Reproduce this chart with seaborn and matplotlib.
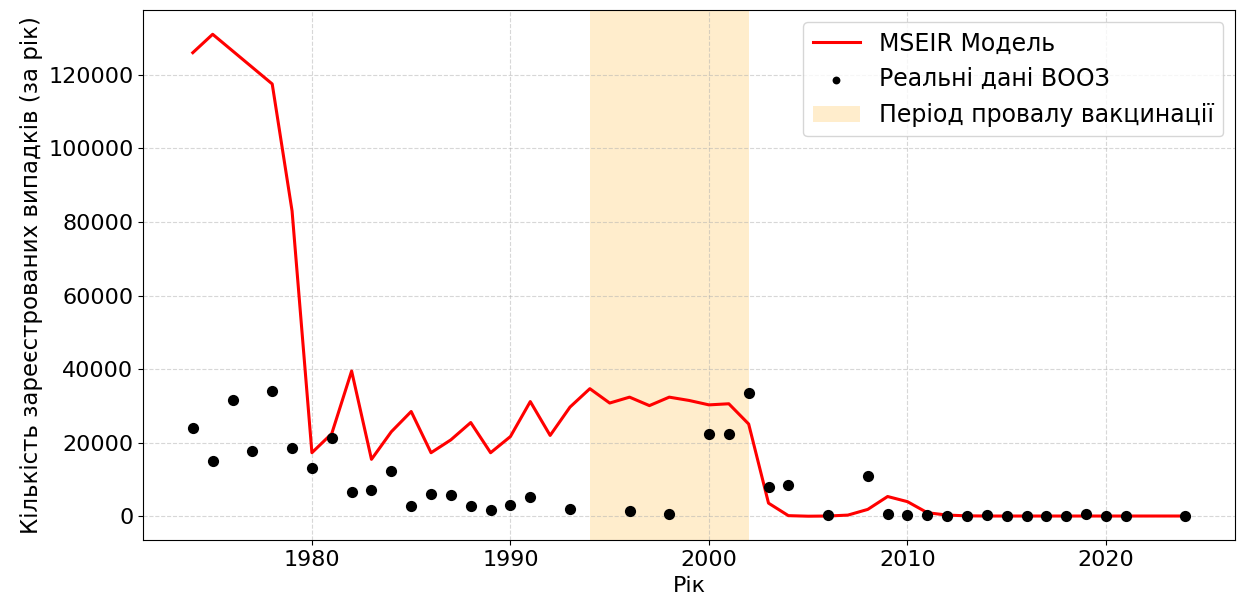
import numpy as np
import pandas as pd
import matplotlib
matplotlib.use("Agg")
import matplotlib.pyplot as plt
import seaborn as sns

model_years = list(range(1974, 2025))
model_cases = [126000, 131000, 126500, 122000, 117500, 83000, 17300, 22500, 39500, 15500,
               23000, 28500, 17300, 20800, 25500, 17300, 21700, 31200, 22000, 29700,
               34700, 30800, 32400, 30100, 32400, 31500, 30300, 30600, 25100, 3600,
               200, 50, 100, 350, 1900, 5400, 4000, 1000, 350, 150,
               100, 100, 100, 100, 100, 100, 100, 100, 100, 100, 100]

who_years = [1974, 1975, 1976, 1977, 1978, 1979, 1980, 1981, 1982, 1983, 1984, 1985,
             1986, 1987, 1988, 1989, 1990, 1991, 1993, 1996, 1998, 2000, 2001, 2002,
             2003, 2004, 2006, 2008, 2009, 2010, 2011, 2012, 2013, 2014, 2015, 2016,
             2017, 2018, 2019, 2020, 2021, 2024]
who_cases = [23900, 15000, 31500, 17900, 34200, 18700, 13200, 21300, 6500, 7200, 12200, 2700,
             6100, 5700, 2900, 1700, 3200, 5300, 1900, 1500, 600, 22400, 22400, 33600,
             8100, 8600, 350, 10900, 600, 350, 350, 100, 100, 350, 50, 100,
             100, 200, 600, 50, 50, 100]

fail_start, fail_end = 1994, 2002

label_model = "MSEIR Модель"
label_who = "Реальні дані ВООЗ"
label_fail = "Період провалу вакцинації"
xlabel = "Рік"
ylabel = "Кількість зареєстрованих випадків (за рік)"

df_model = pd.DataFrame({"year": model_years, "cases": model_cases})
df_who = pd.DataFrame({"year": who_years, "cases": who_cases})

fig = plt.figure(figsize=(12.45, 5.99), dpi=100)
ax = fig.add_axes([0.115, 0.098, 0.877, 0.885])

ax.axvspan(fail_start, fail_end, color="orange", alpha=0.2, lw=0, label=label_fail, zorder=0)
sns.lineplot(data=df_model, x="year", y="cases", color="red", lw=2.2, label=label_model, ax=ax, zorder=2)
sns.scatterplot(data=df_who, x="year", y="cases", color="black", s=65, edgecolor="black",
                linewidth=0, label=label_who, ax=ax, zorder=3)

ax.grid(True, linestyle="--", alpha=0.5)
ax.set_axisbelow(True)
ax.set_xlabel(xlabel, fontsize=16)
ax.set_ylabel(ylabel, fontsize=16.5)
ax.tick_params(labelsize=16)
ax.set_xticks([1980, 1990, 2000, 2010, 2020])

h, l = ax.get_legend_handles_labels()
order = [l.index(label_model), l.index(label_who), l.index(label_fail)]
ax.legend([h[i] for i in order], [l[i] for i in order], loc="upper right", fontsize=17,
          markerscale=0.7)

fig.savefig("out.png", dpi=100)
